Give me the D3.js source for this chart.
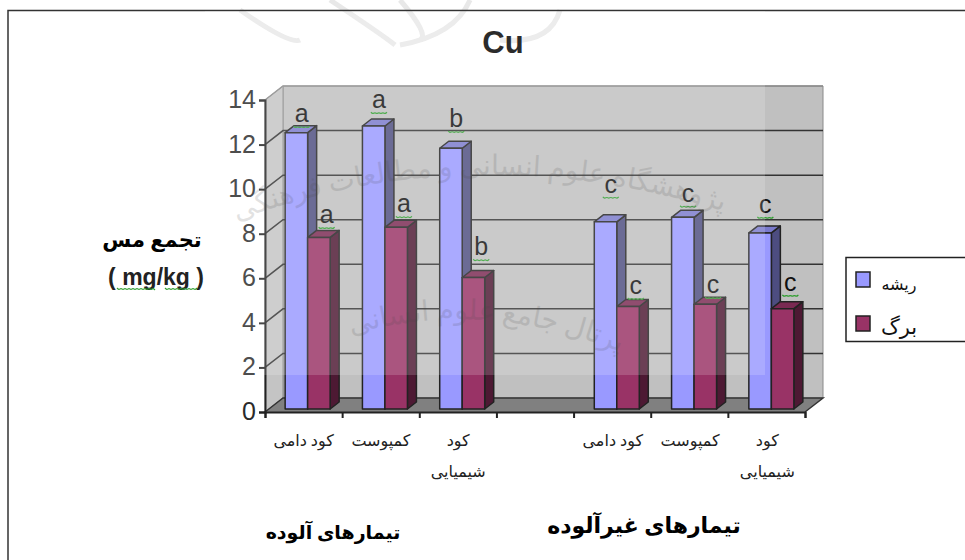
<!DOCTYPE html>
<html>
<head>
<meta charset="utf-8">
<script src="https://cdn.jsdelivr.net/npm/d3@7"></script>
<style>
    html, body { margin: 0; padding: 0; background: #fff; overflow: hidden; }
    svg { display: block; }
    text { font-family: "Liberation Sans", Arial, sans-serif; }
    .fa { font-family: "Liberation Serif", "DejaVu Sans", serif; }
</style>
</head>
<body>
<svg id="chart" width="965" height="560"></svg>
<script>
// chart values
const categories = ["کود دامی", "کمپوست", "کود|شیمیایی", "", "کود دامی", "کمپوست", "کود|شیمیایی"];
const seriesNames = ["ریشه", "برگ"];
const rootValues = [12.4, 12.7, 11.7, null, 8.4, 8.6, 7.9];
const leafValues = [7.7, 8.15, 5.9, null, 4.6, 4.7, 4.5];
const rootLetters = ["a", "a", "b", null, "c", "c", "c"];
const leafLetters = ["a", "a", "b", null, "c", "c", "c"];
// heights of the letters on the value axis
const rootLetterLevels = [12.87, 13.5, 12.65, null, 9.7, 9.3, 8.8];
const leafLetterLevels = [8.34, 8.83, 6.9, null, 5.16, 5.2, 5.3];
const yTicks = [0, 2, 4, 6, 8, 10, 12, 14];

const svg = d3.select("#chart");

// Set up dimensions of the 3D box
const plotLeft = 265, plotRight = 805, plotBottom = 412, plotTop = 100;
const wallDx = 18, wallDy = -14;
const barDx = 9, barDy = -7;
const barBaseShift = -3;

const yScale = d3.scaleLinear().domain([0, 14]).range([plotBottom, plotTop]);
const xEdges = d3.scaleLinear().domain([0, 7]).range([plotLeft, plotRight]);
const xBand = d3.scaleBand().domain(d3.range(7)).range([plotLeft + 4, plotRight + 5]).paddingInner(0).paddingOuter(0);
const barWidth = 22.5;

// Faded emblem behind the chart
const emblem = svg.append("g").attr("fill", "none").attr("stroke", "#e8e8e8").attr("stroke-width", 5);
[[330, 0, 395, 45], [470, 0, 400, 45], [240, 10, 300, 40], [560, 10, 500, 40], [400, 0, 420, 40]].forEach(d => {
    emblem.append("path").attr("d", `M${d[0]},${d[1]} Q${(d[0] + d[2]) / 2 + 20},${d[1] + 35} ${d[2]},${d[3]}`);
});

// Frame, only top and left reach the picture
svg.append("path").attr("d", "M8,560 V10.5 H965").attr("fill", "none").attr("stroke", "#333").attr("stroke-width", 1.5);

// Walls and floor
const corner = (x, y) => `${x},${y}`;
svg.append("polygon")
    .attr("points", [corner(plotLeft + wallDx, plotTop + wallDy), corner(plotRight + wallDx, plotTop + wallDy), corner(plotRight + wallDx, plotBottom + wallDy), corner(plotLeft + wallDx, plotBottom + wallDy)].join(" "))
    .attr("fill", "#c0c0c0").attr("stroke", "#8a8a8a");
svg.append("polygon")
    .attr("points", [corner(plotLeft, plotTop), corner(plotLeft + wallDx, plotTop + wallDy), corner(plotLeft + wallDx, plotBottom + wallDy), corner(plotLeft, plotBottom)].join(" "))
    .attr("fill", "#c4c4c4").attr("stroke", "#8a8a8a");
svg.append("polygon")
    .attr("points", [corner(plotLeft, plotBottom), corner(plotRight, plotBottom), corner(plotRight + wallDx, plotBottom + wallDy), corner(plotLeft + wallDx, plotBottom + wallDy)].join(" "))
    .attr("fill", "#808080");

// Gridlines on the side wall and the back wall
const grid = svg.append("g").attr("fill", "none").attr("stroke", "#333").attr("stroke-width", 1.5);
yTicks.forEach(t => {
    const y = yScale(t);
    grid.append("path").attr("d", `M${plotLeft},${y} L${plotLeft + wallDx},${y + wallDy} H${plotRight + wallDx}` + (t === 0 ? ` L${plotRight},${y}` : ""))
        .attr("stroke", t === 14 ? "#8a8a8a" : "#333");
});

// Bars, blue then red so the red front covers the blue side
const seriesColors = [
    { front: "#9999ff", side: "#4d4d80", topFace: "#7a7acc" },
    { front: "#993366", side: "#4d1933", topFace: "#7a2952" }
];
const bars = svg.append("g").attr("stroke", "#222").attr("stroke-width", 1.5).attr("stroke-linejoin", "round");
const barCenter = i => xBand(i) + xBand.bandwidth() / 2;

[rootValues, leafValues].forEach((values, s) => {
    values.forEach((v, i) => {
        if (v === null) return;
        const x0 = barCenter(i) + (s === 0 ? -barWidth : 0);
        const x1 = x0 + barWidth;
        const yTop = yScale(v) + barBaseShift;
        const yBase = yScale(0) + barBaseShift;
        const c = seriesColors[s];
        bars.append("polygon")
            .attr("points", `${x1},${yTop} ${x1 + barDx},${yTop + barDy} ${x1 + barDx},${yBase + barDy} ${x1},${yBase}`)
            .attr("fill", c.side);
        bars.append("polygon")
            .attr("points", `${x0},${yTop} ${x0 + barDx},${yTop + barDy} ${x1 + barDx},${yTop + barDy} ${x1},${yTop}`)
            .attr("fill", c.topFace);
        bars.append("rect")
            .attr("x", x0).attr("y", yTop)
            .attr("width", barWidth).attr("height", yBase - yTop)
            .attr("fill", c.front);
    });
});

// Front axes
const yAxis = svg.append("g")
    .attr("transform", `translate(${plotLeft},0)`)
    .call(d3.axisLeft(yScale).tickValues(yTicks).tickSize(6).tickPadding(3));
yAxis.selectAll("text").attr("font-size", 25).attr("dy", "0.3em").style("font-family", '"Liberation Sans", Arial, sans-serif').attr("fill", "#2a2a2a");
yAxis.selectAll("line, path").attr("stroke", "#222").attr("stroke-width", 2);

const xAxis = svg.append("g")
    .attr("transform", `translate(0,${plotBottom})`)
    .call(d3.axisBottom(xEdges).tickValues(d3.range(8)).tickSize(6).tickFormat(""));
xAxis.selectAll("line, path").attr("stroke", "#222").attr("stroke-width", 2);

// Small wavy spell check underline
const wave = d3.line().curve(d3.curveBasis);
function squiggle(cx, y, w) {
    const pts = d3.range(0, w + 1, 2).map((d, k) => [cx - w / 2 + d, y + (k % 2 ? 2 : 0)]);
    svg.append("path").attr("d", wave(pts)).attr("fill", "none").attr("stroke", "#2f9e2f").attr("stroke-width", 1.2);
}

// Significance letters
const yLetter = v => yScale(v) + barBaseShift;
[[rootLetters, rootLetterLevels, -6], [leafLetters, leafLetterLevels, 19]].forEach(([letters, levels, shift]) => {
    letters.forEach((l, i) => {
        if (l === null) return;
        const cx = barCenter(i) + shift;
        svg.append("text").attr("x", cx).attr("y", yLetter(levels[i]))
            .attr("text-anchor", "middle").attr("font-size", 25).attr("fill", "#111").text(l);
        squiggle(cx, yLetter(levels[i]) + 4, 16);
    });
});

// Category labels, split on | where the label wraps
categories.forEach((c, i) => {
    if (!c) return;
    c.split("|").forEach((part, k) => {
        svg.append("text").attr("class", "fa")
            .attr("x", barCenter(i) - 4).attr("y", 446 + k * 31)
            .attr("text-anchor", "middle").attr("direction", "rtl")
            .attr("font-size", 16).attr("fill", "#222").text(part);
    });
});

// Titles
svg.append("text").attr("x", 503).attr("y", 53).attr("text-anchor", "middle")
    .attr("font-size", 31).attr("font-weight", "bold").attr("fill", "#000").text("Cu");
svg.append("text").attr("class", "fa").attr("x", 152).attr("y", 247).attr("text-anchor", "middle")
    .attr("direction", "rtl").attr("font-size", 21).attr("font-weight", "bold").attr("fill", "#000").text("تجمع مس");
svg.append("text").attr("x", 156).attr("y", 285).attr("text-anchor", "middle")
    .attr("font-size", 23).attr("font-weight", "bold").attr("fill", "#222").text("(\u00a0mg/kg\u00a0)");
squiggle(136, 288, 38);
squiggle(181, 288, 32);
svg.append("text").attr("class", "fa").attr("x", 333).attr("y", 539).attr("text-anchor", "middle")
    .attr("direction", "rtl").attr("font-size", 19).attr("font-weight", "bold").attr("fill", "#000").text("تیمارهای آلوده");
svg.append("text").attr("class", "fa").attr("x", 644).attr("y", 533).attr("text-anchor", "middle")
    .attr("direction", "rtl").attr("font-size", 22).attr("font-weight", "bold").attr("fill", "#000").text("تیمارهای غیرآلوده");

// Legend
svg.append("rect").attr("x", 846).attr("y", 257.5).attr("width", 125).attr("height", 84)
    .attr("fill", "#fff").attr("stroke", "#222").attr("stroke-width", 1.5);
seriesNames.forEach((name, i) => {
    svg.append("rect").attr("x", 856).attr("y", 272 + i * 44).attr("width", 14).attr("height", 15)
        .attr("fill", seriesColors[i].front).attr("stroke", "#222").attr("stroke-width", 1.5);
    svg.append("text").attr("class", "fa").attr("x", 899).attr("y", 290 + i * 44)
        .attr("text-anchor", "middle").attr("direction", "rtl").attr("font-size", i === 0 ? 16 : 21).attr("fill", "#111").text(name);
});

// Watermark sheet laid over the scan, lighter inside its rectangle
svg.append("rect").attr("x", 205).attr("y", 11).attr("width", 560).attr("height", 364)
    .attr("fill", "#fff").attr("opacity", 0.17);

const defs = svg.append("defs");
defs.append("path").attr("id", "arc1").attr("d", "M225,225 Q470,130 735,215");
defs.append("path").attr("id", "arc2").attr("d", "M320,345 Q480,285 650,365");
[["#arc1", "پژوهشگاه علوم انسانی و مطالعات فرهنگی", 28], ["#arc2", "پرتال جامع علوم انسانی", 28]].forEach(d => {
    svg.append("text").attr("class", "fa").attr("font-size", d[2]).attr("fill", "#444").attr("opacity", 0.15)
        .attr("direction", "rtl")
        .append("textPath").attr("href", d[0]).attr("startOffset", "50%").attr("text-anchor", "middle").text(d[1]);
});
</script>
</body>
</html>
